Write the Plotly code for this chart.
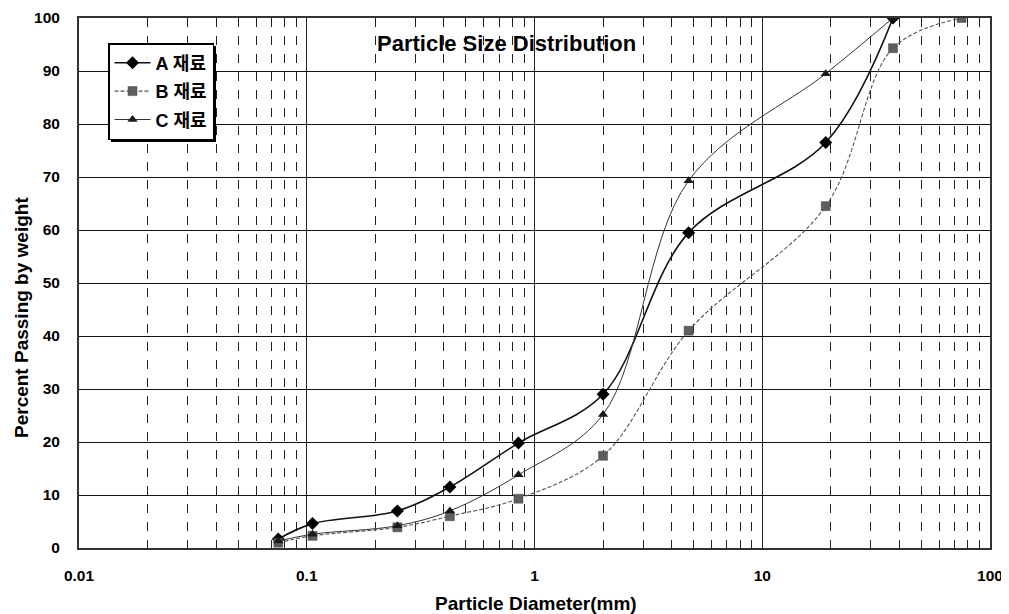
import plotly.graph_objects as go

sieve_sizes = [0.075, 0.106, 0.25, 0.425, 0.85, 2.0, 4.75, 19.0, 37.5, 75.0]
a_pass = [1.7, 4.6, 7.0, 11.5, 19.8, 29.0, 59.5, 76.5, 100.0]
b_pass = [1.0, 2.3, 3.9, 6.0, 9.3, 17.4, 41.0, 64.5, 94.3, 100.0]
c_pass = [1.3, 2.6, 4.2, 7.0, 13.8, 25.2, 69.3, 89.5, 100.0]
names = ["A 재료", "B 재료", "C 재료"]
x_tick_vals = [0.01, 0.1, 1, 10, 100]
x_tick_text = ["0.01", "0.1", "1", "10", "100"]
y_tick_vals = list(range(0, 101, 10))

FONT = "Liberation Sans, Arial, Noto Sans CJK KR, sans-serif"
LEGFONT = "Liberation Sans, Noto Sans CJK KR, sans-serif"

# page body has an 8px default margin, so the figure is drawn 8px in from the corner
OFF = 8
W, H = 1009 - OFF, 614 - OFF
PLOT_L, PLOT_R, PLOT_T, PLOT_B = 79, 990, 18, 548  # in page pixels
ML, MR = PLOT_L - OFF, W - (PLOT_R - OFF)
MT, MB = PLOT_T - OFF, H - (PLOT_B - OFF)
PW, PH = PLOT_R - PLOT_L, PLOT_B - PLOT_T


def px_to_paper_x(px):
    return (px - PLOT_L) / PW


def px_to_paper_y(py):
    return (PLOT_B - py) / PH


fig = go.Figure()
fig.add_trace(go.Scatter(
    x=sieve_sizes[:len(a_pass)], y=a_pass, name=names[0], mode="lines+markers",
    legendgroup="a",
    line=dict(color="#111111", width=1.6, shape="spline", smoothing=1.0),
    marker=dict(symbol="diamond", size=10, color="#000000"),
))
fig.add_trace(go.Scatter(
    x=sieve_sizes[:len(b_pass)], y=b_pass, name=names[1], mode="lines+markers",
    legendgroup="b",
    line=dict(color="#555555", width=1.1, shape="spline", smoothing=1.0, dash="4px,2px"),
    marker=dict(symbol="square", size=9, color="#5e5e5e", line=dict(color="#444444", width=0.5)),
))
fig.add_trace(go.Scatter(
    x=sieve_sizes[:len(c_pass)], y=c_pass, name=names[2], mode="lines+markers",
    legendgroup="c",
    line=dict(color="#333333", width=1.0, shape="spline", smoothing=1.0),
    marker=dict(symbol="triangle-up", size=9, color="#1a1a1a"),
))

fig.update_layout(
    width=W, height=H,
    margin=dict(l=ML, r=MR, t=MT, b=MB, autoexpand=False),
    paper_bgcolor="white", plot_bgcolor="white",
    font=dict(family=FONT, color="black"),
    showlegend=True,
    legend=dict(
        x=px_to_paper_x(108), y=px_to_paper_y(43), xanchor="left", yanchor="top",
        bgcolor="white", bordercolor="black", borderwidth=1.5,
        font=dict(family=LEGFONT, size=18, color="black", weight="bold"),
        tracegroupgap=2, itemwidth=36,
    ),
    annotations=[
        dict(
            text="<b>Particle Size Distribution</b>", xref="paper", yref="paper",
            x=px_to_paper_x(506), y=px_to_paper_y(44), xanchor="center", yanchor="middle",
            showarrow=False, font=dict(family=FONT, size=22, color="black"),
        ),
        dict(
            text="<b>Particle Diameter(mm)</b>", xref="paper", yref="paper",
            x=px_to_paper_x(536), y=px_to_paper_y(603), xanchor="center", yanchor="middle",
            showarrow=False, font=dict(family=FONT, size=19, color="black"),
        ),
        dict(
            text="<b>Percent Passing by weight</b>", xref="paper", yref="paper",
            x=px_to_paper_x(21), y=px_to_paper_y(318), xanchor="center", yanchor="middle",
            textangle=-90, showarrow=False, font=dict(family=FONT, size=19, color="black"),
        ),
    ],
    shapes=[dict(
        type="rect", xref="paper", yref="paper", layer="above",
        x0=px_to_paper_x(111), x1=px_to_paper_x(216),
        y0=px_to_paper_y(142), y1=px_to_paper_y(46),
        fillcolor="black", line=dict(width=0),
    )],
)

fig.update_xaxes(
    type="log", range=[-2, 2], automargin=False,
    tickvals=x_tick_vals, ticktext=x_tick_text, ticks="",
    tickfont=dict(family=FONT, size=15.5, weight="bold"), ticklabelstandoff=12,
    showgrid=True, gridcolor="#222222", gridwidth=1,
    minor=dict(dtick="D1", showgrid=True, gridcolor="#222222", gridwidth=1, griddash="dash", ticks=""),
    showline=True, linecolor="#333333", linewidth=2, mirror=True,
    zeroline=False,
)
fig.update_yaxes(
    range=[0, 100], tickvals=y_tick_vals, ticks="", automargin=False,
    tickfont=dict(family=FONT, size=15.5, weight="bold"), ticklabelstandoff=14,
    showgrid=True, gridcolor="#111111", gridwidth=1.2,
    showline=True, linecolor="#333333", linewidth=2, mirror=True,
    zeroline=False,
)

fig.write_html("out.html")
